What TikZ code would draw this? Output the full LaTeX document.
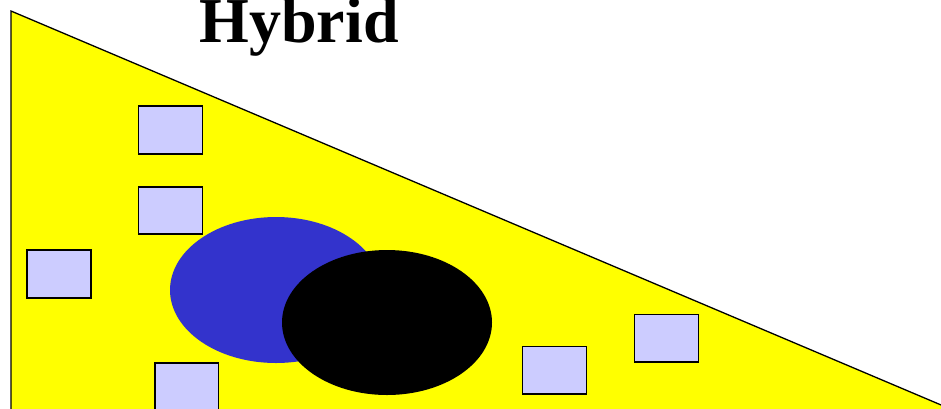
\documentclass[tikz,border=0pt]{standalone}
\usepackage{fontspec}
\setmainfont{Liberation Serif}
\definecolor{tri}{HTML}{FFFF00}
\definecolor{boxfill}{HTML}{CCCCFF}
\definecolor{blueell}{HTML}{3333CC}
\begin{document}
\begin{tikzpicture}[x=1pt,y=-1pt,
  box/.style={draw=black,line width=1.3pt,fill=boxfill}]
\useasboundingbox (0,0) rectangle (941,408);
\clip (0,0) rectangle (941,408);
\fill[white] (0,0) rectangle (941,408);
\filldraw[fill=tri,draw=black,line width=1.3pt] (11,11) -- (960,413) -- (960,440) -- (11,440) -- cycle;
\node[anchor=base,font=\bfseries\fontsize{64}{64}\selectfont,inner sep=0pt] (title) at (299,42.5) {Hybrid};
\draw[box] (138.5,106) rectangle (202.5,154);
\draw[box] (138.5,187) rectangle (202.5,234);
\draw[box] (27,250) rectangle (91,298);
\draw[box] (155,363) rectangle (218.5,412);
\draw[box] (522.5,346.5) rectangle (586.5,394);
\draw[box] (634.5,314.5) rectangle (698.5,362);
\fill[blueell] (276,290) ellipse [x radius=106, y radius=73];
\fill[black] (387,322.5) ellipse [x radius=105, y radius=72.5];
\end{tikzpicture}
\end{document}
